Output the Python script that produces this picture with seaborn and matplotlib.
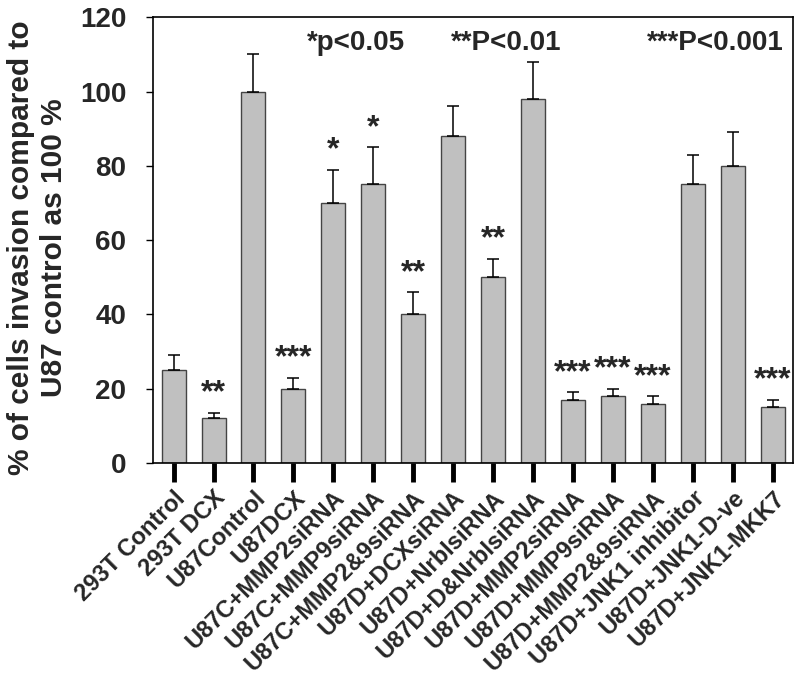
import matplotlib
matplotlib.use("Agg")
import matplotlib.pyplot as plt
import seaborn as sns
import pandas as pd
import numpy as np

categories = ["293T Control", "293T DCX", "U87Control", "U87DCX", "U87C+MMP2siRNA",
              "U87C+MMP9siRNA", "U87C+MMP2&9siRNA", "U87D+DCXsiRNA", "U87D+NrbIsiRNA",
              "U87D+D&NrbIsiRNA", "U87D+MMP2siRNA", "U87D+MMP9siRNA", "U87D+MMP2&9siRNA",
              "U87D+JNK1 inhibitor", "U87D+JNK1-D-ve", "U87D+JNK1-MKK7"]
values = [25, 12, 100, 20, 70, 75, 40, 88, 50, 98, 17, 18, 16, 75, 80, 15]
errors = [4, 1.5, 10, 3, 9, 10, 6, 8, 5, 10, 2, 2, 2, 8, 9, 2]
stars = ["", "**", "", "***", "*", "*", "**", "", "**", "", "***", "***", "***", "", "", "***"]
pvalue_notes = ["*p<0.05", "**P<0.01", "***P<0.001"]
pvalue_note_x = [4.56, 8.32, 13.56]

sns.set_style("white")
plt.rcParams['font.family'] = ['Liberation Sans', 'DejaVu Sans']
plt.rcParams['font.weight'] = 'bold'

df = pd.DataFrame({"cat": categories, "val": values})

fig = plt.figure(figsize=(8, 6.89), dpi=100)
ax = fig.add_axes([0.191, 0.328, 0.800, 0.647])

sns.barplot(data=df, x="cat", y="val", color="#c0c0c0", saturation=1, width=0.6,
            edgecolor="#444444", linewidth=1.0, errorbar=None, ax=ax)

xs = np.arange(len(categories))
ax.errorbar(xs, values, yerr=[np.zeros(len(errors)), errors], fmt="none",
            ecolor="black", elinewidth=1.1, capsize=4.5, capthick=1.1, zorder=3)

for x, v, e, s in zip(xs, values, errors, stars):
    if s:
        ax.annotate(s, xy=(x, v + e), xytext=(0, 3), textcoords="offset points",
                    ha="center", va="bottom", fontsize=23, fontweight="bold")

for t, x in zip(pvalue_notes, pvalue_note_x):
    ax.text(x, 113, t, ha="center", va="center", fontsize=20, fontweight="bold")

ax.set_ylim(0, 120)
ax.set_xlim(-0.52, 15.5)
ax.set_yticks([0, 20, 40, 60, 80, 100, 120])
ax.set_xlabel("")
ax.set_ylabel("% of cells invasion compared to\nU87 control as 100 %", fontsize=21.5,
              fontweight="bold", linespacing=1.2)
ax.yaxis.set_label_coords(-0.133, 0.482)
ax.set_xticks(xs)
ax.set_xticklabels(categories, rotation=45, ha="right", rotation_mode="anchor",
                   fontsize=17, fontweight="bold")
for lbl in ax.get_yticklabels():
    lbl.set_fontsize(20)
    lbl.set_fontweight("bold")

ax.tick_params(axis="x", direction="out", length=14, width=3.5, color="black", bottom=True, pad=3)
ax.tick_params(axis="y", direction="out", length=5, width=1, color="black", left=True, pad=14)
for sp in ax.spines.values():
    sp.set_visible(True)
    sp.set_color("black")
    sp.set_linewidth(1.2)

fig.savefig("out.png", dpi=100)
